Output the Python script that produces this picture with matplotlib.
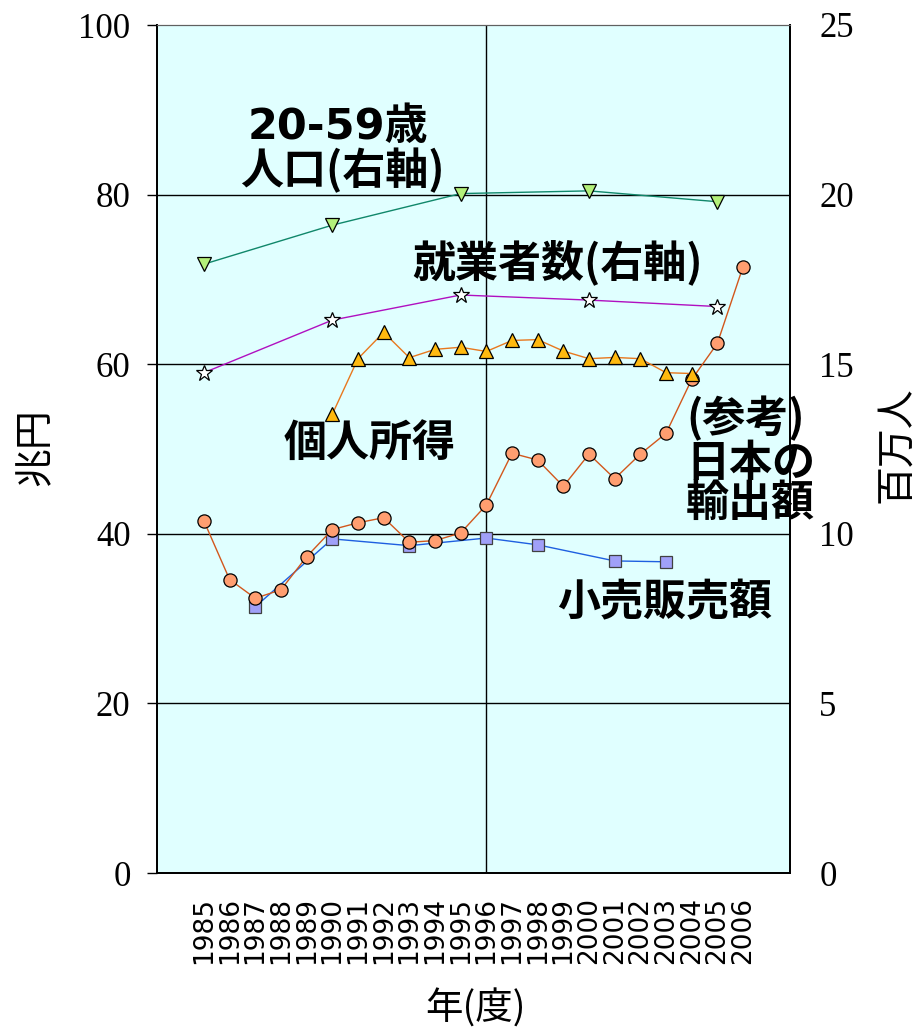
import matplotlib
matplotlib.use("Agg")
import matplotlib.pyplot as plt

years = list(range(1985, 2007))

# right axis (millions of people)
pop_years = [1985, 1990, 1995, 2000, 2005]
pop_values = [17.95, 19.1, 20.03, 20.11, 19.79]
emp_years = [1985, 1990, 1995, 2000, 2005]
emp_values = [14.75, 16.3, 17.04, 16.89, 16.7]

# left axis (trillion yen)
income_years = list(range(1990, 2005))
income_values = [54.1, 60.65, 63.76, 60.77, 61.75, 62.0, 61.5, 62.8, 62.9,
                 61.55, 60.65, 60.8, 60.65, 59.0, 58.9]
export_values = [41.5, 34.6, 32.4, 33.4, 37.3, 40.5, 41.3, 41.9, 39.0, 39.2, 40.1,
                 43.4, 49.5, 48.7, 45.6, 49.4, 46.5, 49.4, 51.85, 58.2, 62.45, 71.5]
retail_years = [1987, 1990, 1993, 1996, 1998, 2001, 2003]
retail_values = [31.4, 39.4, 38.6, 39.5, 38.7, 36.8, 36.7]

left_ticks = [0, 20, 40, 60, 80, 100]
right_ticks = [0, 5, 10, 15, 20, 25]

JP = ["Noto Sans CJK JP", "DejaVu Sans"]


def pos(ys):
    return [years.index(y) for y in ys]


fig = plt.figure(figsize=(9.17, 10.31), dpi=100)
ax = fig.add_axes([157 / 917, 1 - 873 / 1031, 633 / 917, 848 / 1031])
ax.set_facecolor("#E0FFFF")
ax2 = ax.twinx()

ax.set_xlim(-1.83, 22.83)
ax.set_ylim(0, 100)
ax2.set_ylim(0, 25)

for v in left_ticks[1:-1]:
    ax.axhline(v, color="black", lw=1, zorder=1)
ax.axvline(years.index(1996), color="black", lw=1, zorder=1)

# left-axis series
ax.plot(pos(retail_years), retail_values, color="#1E5FE0", lw=1, marker="s",
        ms=8.5, mfc="#A0A0F8", mec="#404040", mew=0.9, zorder=3)
ax.plot(range(len(years)), export_values, color="#D2571C", lw=1, marker="o",
        ms=9.5, mfc="#FF9E70", mec="black", mew=0.9, zorder=4)
ax.plot(pos(income_years), income_values, color="#E8781E", lw=1, marker="^",
        ms=9.5, mfc="#FFB90F", mec="black", mew=0.9, zorder=5)

# right-axis series
ax2.plot(pos(pop_years), pop_values, color="#10876A", lw=1, marker="v",
         ms=9.5, mfc="#B3F07A", mec="black", mew=0.9)
ax2.plot(pos(emp_years), emp_values, color="#B010C0", lw=1, marker="*",
         ms=12, mfc="white", mec="black", mew=0.9)

ax.set_xticks(range(len(years)))
ax.tick_params(axis="x", length=0, pad=17)
ax.set_xticklabels([str(y) for y in years], rotation=90, fontsize=19,
                   fontfamily="DejaVu Sans")

ax.set_yticks(left_ticks)
ax.tick_params(axis="y", length=7, width=1, direction="out", pad=12)
ax.set_yticklabels([str(t) for t in left_ticks], fontsize=25,
                   fontfamily="Liberation Serif")
ax2.set_yticks(right_ticks)
ax2.tick_params(axis="y", length=0, pad=21)
ax2.set_yticklabels([str(t) for t in right_ticks], fontsize=25,
                    fontfamily="Liberation Serif")

for a in (ax, ax2):
    for side in ("left", "right", "bottom"):
        a.spines[side].set_color("black")
        a.spines[side].set_linewidth(1.3)
    a.spines["top"].set_color("#606060")
    a.spines["top"].set_linewidth(0.8)

# series labels (data coords on left axis)
bold = dict(fontsize=31, fontweight="bold", zorder=6)
ax.text(5.22, 88.0, "20-59歳", ha="center", va="center",
        family=["DejaVu Sans", "Noto Sans CJK JP"], **bold)
ax.text(5.38, 82.9, "人口(右軸)", ha="center", va="center", family=JP, **bold)
ax.text(13.79, 72.0, "就業者数(右軸)", ha="center", va="center", family=JP, **bold)
ax.text(6.47, 50.7, "個人所得", ha="center", va="center", family=JP, **bold)
ax.text(18.78, 53.6, "(参考)", ha="left", va="center", family=JP, **bold)
ax.text(18.78, 48.3, "日本の", ha="left", va="center", family=JP, **bold)
ax.text(18.78, 43.6, "輸出額", ha="left", va="center", family=JP, **bold)
ax.text(17.96, 31.96, "小売販売額", ha="center", va="center", family=JP, **bold)

# axis titles
fig.text(35 / 917, 1 - 447 / 1031, "兆円", rotation=90, ha="center",
         va="center", fontsize=28, family=JP)
fig.text(896 / 917, 1 - 445 / 1031, "百万人", rotation=90, ha="center",
         va="center", fontsize=28, family=JP)
fig.text(475 / 917, 1 - 1009 / 1031, "年(度)", ha="center", va="center",
         fontsize=27, family=JP)

fig.savefig("out.png", dpi=100)
